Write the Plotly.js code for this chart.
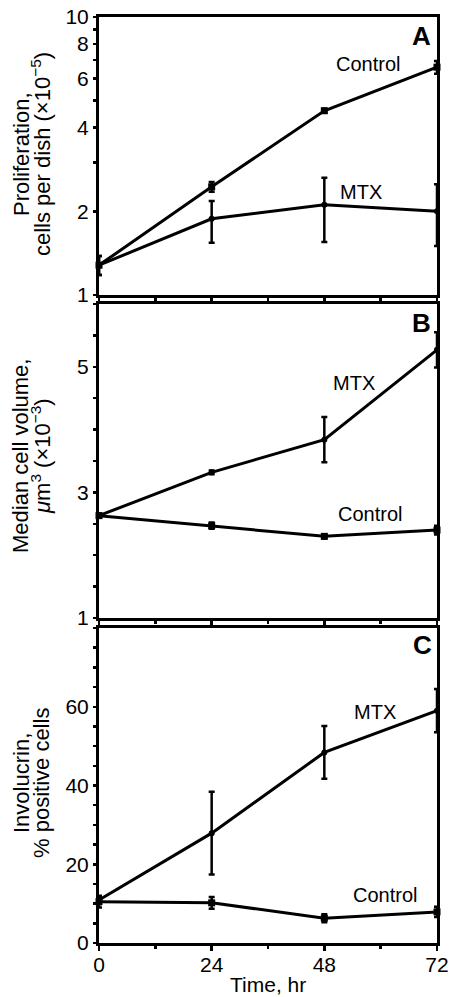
<!DOCTYPE html>
<html>
<head>
<meta charset="utf-8">
<script src="https://cdn.plot.ly/plotly-3.0.1.min.js"></script>
<style>html,body{margin:0;padding:0;background:#fff}#chart{width:453px;height:997px}</style>
</head>
<body>
<div id="chart"></div>
<script>
// ---- data ----
const hours = [0, 24, 48, 72];

// Panel A: proliferation, cells per dish (x10^-5)
const prolifControl = [1.28, 2.45, 4.6, 6.6];
const prolifControlErr = [0.1, 0.1, 0.08, 0.35];
const prolifMTX = [1.28, 1.88, 2.11, 2.0];
const prolifMTXErrPlus = [0.1, 0.3, 0.53, 0.5];
const prolifMTXErrMinus = [0.1, 0.34, 0.56, 0.5];

// Panel B: median cell volume, um^3 (x10^-3)
const volMTX = [2.63, 3.32, 3.84, 5.27];
const volMTXErr = [0.03, 0.03, 0.36, 0.28];
const volControl = [2.63, 2.47, 2.30, 2.40];
const volControlErr = [0.03, 0.05, 0.03, 0.07];

// Panel C: involucrin, % positive cells
const invMTX = [10.9, 27.9, 48.4, 59.0];
const invMTXErr = [1.0, 10.5, 6.7, 5.5];
const invControl = [10.5, 10.2, 6.3, 7.9];
const invControlErr = [1.5, 1.5, 1.0, 1.3];

// tick labels
const xTickVals = [0, 24, 48, 72];
const xTickText = ['0', '24', '48', '72'];
const aTickVals = [1, 2, 3, 4, 5, 6, 7, 8, 9, 10];
const aTickText = ['1', '2', '', '4', '', '6', '', '8', '', '10'];
const bTickVals = [1, 1.5, 2, 2.5, 3, 3.5, 4, 4.5, 5, 5.5, 6];
const bTickText = ['1', '', '', '', '3', '', '', '', '5', '', ''];
const cTickVals = [0,5,10,15,20,25,30,35,40,45,50,55,60,65,70,75,80];
const cTickText = ['0','','','','20','','','','40','','','','60','','','',''];

// ---- layout helpers ----
const W = 453, H = 997;
const ML = 99, MR = 16, MT = 17, MB = 54;
const PW = W - ML - MR, PH = H - MT - MB;
const px2x = px => (px - ML) / PW;
const py2y = py => (H - MB - py) / PH;

const FONT = 'Liberation Sans, Arial, Helvetica, sans-serif';
const black = '#000';

function lineTrace(y, err, errMinus, xa, ya, sym, size) {
  const e = {type: 'data', array: err, visible: true, color: black, thickness: 2.5, width: 3};
  if (errMinus) { e.symmetric = false; e.arrayminus = errMinus; }
  return {
    x: hours, y: y, xaxis: xa, yaxis: ya, type: 'scatter', mode: 'lines+markers',
    line: {color: black, width: 3},
    marker: {color: black, symbol: sym, size: size},
    error_y: e, showlegend: false, cliponaxis: false, hoverinfo: 'skip'
  };
}

const traces = [
  lineTrace(prolifControl, prolifControlErr, null, 'x', 'y', 'square', 7),
  lineTrace(prolifMTX, prolifMTXErrPlus, prolifMTXErrMinus, 'x', 'y', 'circle', 6),
  lineTrace(volMTX, volMTXErr, null, 'x2', 'y2', 'circle', 6),
  lineTrace(volControl, volControlErr, null, 'x2', 'y2', 'square', 7),
  lineTrace(invMTX, invMTXErr, null, 'x3', 'y3', 'circle', 6),
  lineTrace(invControl, invControlErr, null, 'x3', 'y3', 'square', 7)
];

const TICKFONT = {family: FONT, size: 21, color: black};

function xAxis(anchor, labels) {
  return {
    anchor: anchor, domain: [0, 1], range: [0, 72],
    tickvals: xTickVals, ticktext: labels ? xTickText : ['', '', '', ''],
    showticklabels: labels, ticklabelstandoff: -4,
    ticks: 'outside', ticklen: 5, tickwidth: 2.5, tickcolor: black,
    minor: {tickvals: [12, 36, 60], ticks: 'outside', ticklen: 3, tickwidth: 2.5, tickcolor: black},
    showline: true, linewidth: 3, linecolor: black, mirror: true,
    showgrid: false, zeroline: false,
    tickfont: TICKFONT
  };
}
function yAxis(domain, type, range, tv, tt) {
  return {
    domain: domain, type: type, range: range,
    tickvals: tv, ticktext: tt,
    ticks: 'outside', ticklen: 3, tickwidth: 2.5, tickcolor: black,
    showline: true, linewidth: 3, linecolor: black, mirror: true,
    showgrid: false, zeroline: false,
    tickfont: TICKFONT
  };
}

const ann = [];
function addText(text, x, y, size, opts) {
  ann.push(Object.assign({text: text, x: x, y: y, xref: 'paper', yref: 'paper', showarrow: false,
    font: {family: FONT, size: size, color: black}, xanchor: 'center', yanchor: 'middle'}, opts || {}));
}
// y titles (two lines each)
function yTitle(l1, l2, cy) {
  addText(l1, px2x(21), py2y(cy), 22, {textangle: -90});
  addText(l2, px2x(41), py2y(cy), 22, {textangle: -90});
}
yTitle('Proliferation,', 'cells per dish (×10<sup>−5</sup>)', 154);
yTitle('Median cell volume,', '<i>μ</i>m<sup>3</sup> (×10<sup>−3</sup>)', 456);
yTitle('Involucrin,', '% positive cells', 783);

// x title
addText('Time, hr', px2x(268), py2y(985), 21);

// panel letters
const boldFont = {font: {family: FONT, size: 26, color: black, weight: 'bold'}};
addText('<b>A</b>', px2x(421), py2y(36), 26, boldFont);
addText('<b>B</b>', px2x(421), py2y(323), 26, boldFont);
addText('<b>C</b>', px2x(422), py2y(645), 26, boldFont);

// series labels
addText('Control', px2x(368), py2y(64), 20);
addText('MTX', px2x(361), py2y(192), 20);
addText('MTX', px2x(354), py2y(383), 20);
addText('Control', px2x(370), py2y(514), 20);
addText('MTX', px2x(375), py2y(712), 20);
addText('Control', px2x(385), py2y(895), 20);

const layout = {
  width: W, height: H,
  margin: {l: ML, r: MR, t: MT, b: MB},
  paper_bgcolor: '#fff', plot_bgcolor: '#fff',
  showlegend: false,
  font: {family: FONT, color: black},
  xaxis: xAxis('y', false),
  xaxis2: xAxis('y2', false),
  xaxis3: xAxis('y3', true),
  yaxis: yAxis([py2y(295), 1], 'log', [0, 1], aTickVals, aTickText),
  yaxis2: yAxis([py2y(618), py2y(304)], 'linear', [1, 6], bTickVals, bTickText),
  yaxis3: yAxis([0, py2y(628)], 'linear', [0, 80], cTickVals, cTickText),
  annotations: ann
};

Plotly.newPlot('chart', traces, layout, {staticPlot: true, displayModeBar: false});
</script>
</body>
</html>
